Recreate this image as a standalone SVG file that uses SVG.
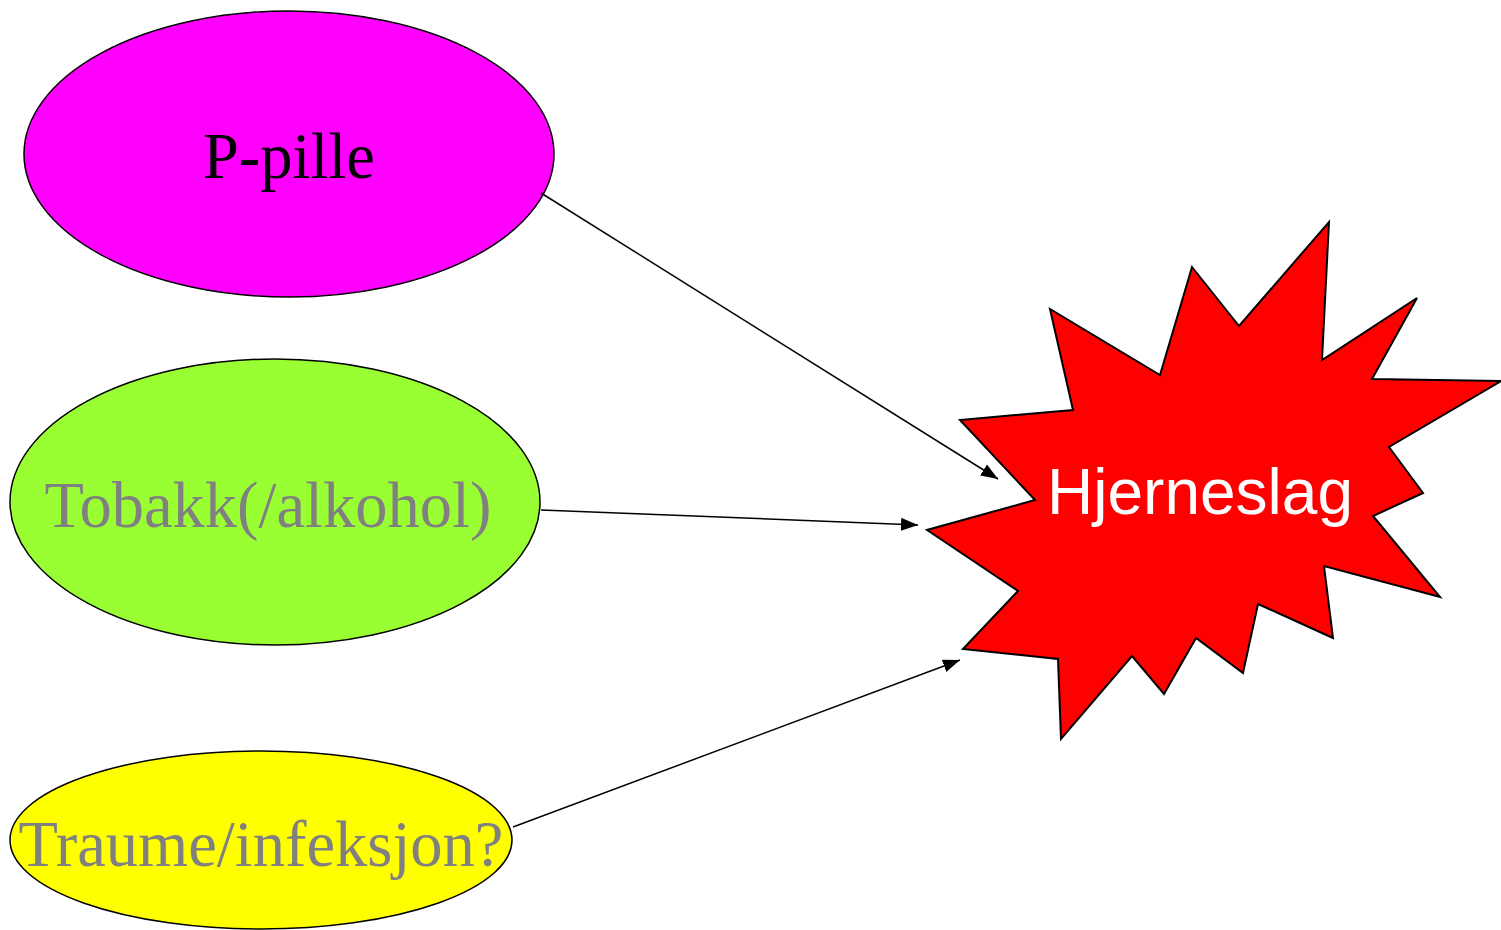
<svg xmlns="http://www.w3.org/2000/svg" width="1501" height="930" viewBox="0 0 1501 930">
<style>
.node ellipse { stroke: #000; stroke-width: 1.5; }
.node polygon { stroke: #000; stroke-width: 2; }
.serif { font-family: "Liberation Serif", "Times New Roman", serif; font-size: 64.5px; text-anchor: middle; }
.sans { font-family: "Liberation Sans", Arial, sans-serif; font-size: 64px; text-anchor: middle; fill: #fff; }
.conn line { stroke: #000; stroke-width: 1.5; fill: none; }
</style>
<defs>
<marker id="arrow" markerUnits="userSpaceOnUse" markerWidth="18" markerHeight="14" refX="17" refY="6.5" orient="auto">
<path d="M0,0 L17,6.5 L0,13 z" fill="#000"/>
</marker>
</defs>
<rect width="1501" height="930" fill="#fff"/>
<g id="pille" class="node">
<ellipse cx="289" cy="154" rx="265" ry="143" fill="#FF00FF"/>
<text class="serif" x="289" y="178" fill="#000">P-pille</text>
</g>
<g id="tobakk" class="node">
<ellipse cx="275" cy="502" rx="265" ry="143" fill="#99FF33"/>
<text class="serif" x="268" y="527" fill="#808080">Tobakk(/alkohol)</text>
</g>
<g id="traume" class="node">
<ellipse cx="261" cy="840" rx="251" ry="89" fill="#FFFF00"/>
<text class="serif" x="261" y="866" fill="#808080">Traume/infeksjon?</text>
</g>
<g id="hjerneslag" class="node">
<polygon fill="#FF0000" points="1329,222 1322,360 1417,298 1372,379 1501,381 1389,447 1423,493 1373,516 1440,597 1324,566 1333,638 1258,604 1243,673 1196,638 1164,694 1132,656 1061,739 1058,659 963,649 1018,591 927,530 1035,500 960,420 1073,410 1050,309 1160,375 1192,267 1239,326"/>
<text class="sans" x="1200" y="514">Hjerneslag</text>
</g>
<g id="connectors" class="conn">
<line x1="541" y1="193" x2="998" y2="479" marker-end="url(#arrow)"/>
<line x1="541" y1="510" x2="918" y2="525" marker-end="url(#arrow)"/>
<line x1="513" y1="827" x2="960" y2="660" marker-end="url(#arrow)"/>
</g>
</svg>
